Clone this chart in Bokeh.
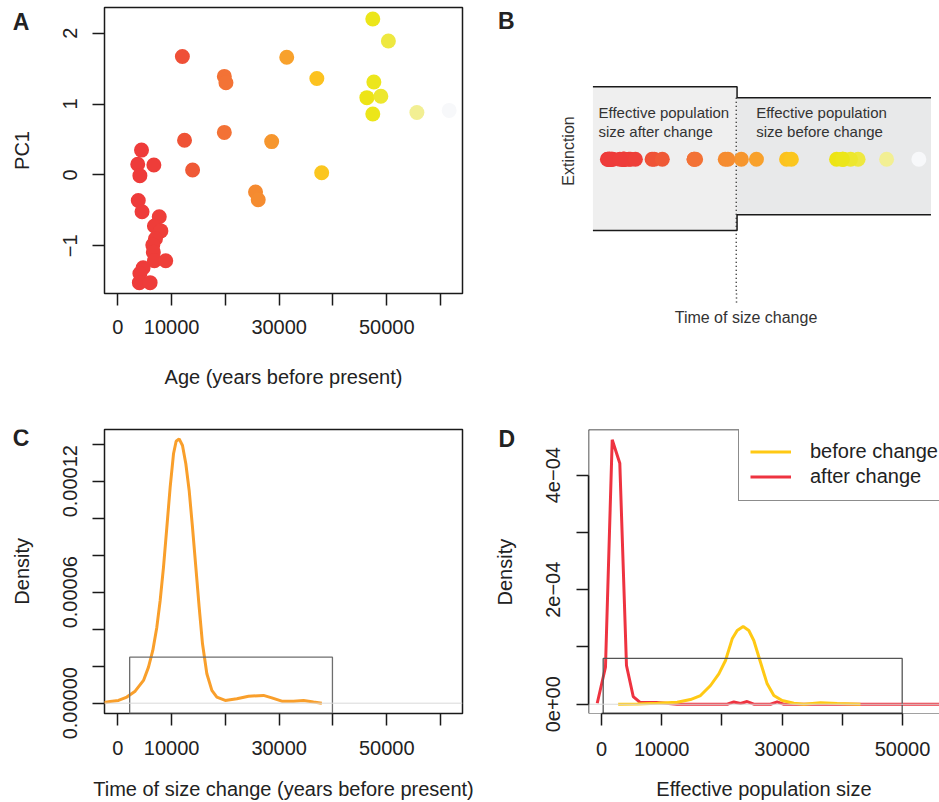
import numpy as np
from bokeh.plotting import figure
from bokeh.layouts import column, row
from bokeh.models import (Range1d, FixedTicker, Span, Legend, LegendItem,
                          LinearColorMapper, ColumnDataSource)
from bokeh.core.properties import value
from bokeh.embed import file_html
from bokeh.resources import INLINE

# ---------------- data ----------------
# Panel A: specimens (age in years BP, PC1 score)
ages = [47400, 50300, 12000, 31400, 37000, 47600, 19800, 20100, 46300, 48900,
        47400, 55600, 61600, 19800, 12400, 28600, 13900, 37900, 25600, 26100,
        4400, 3700, 6700, 4100, 3800, 4500, 7700, 6800, 8000, 7000,
        6500, 6600, 6800, 8900, 4700, 4100, 4000, 6000]
pc1 = [2.20, 1.89, 1.67, 1.66, 1.36, 1.31, 1.39, 1.30, 1.09, 1.11,
       0.86, 0.88, 0.91, 0.60, 0.49, 0.47, 0.07, 0.03, -0.24, -0.35,
       0.35, 0.15, 0.14, -0.01, -0.36, -0.52, -0.59, -0.72, -0.79, -0.90,
       -0.99, -1.09, -1.21, -1.21, -1.31, -1.39, -1.52, -1.52]

# Panel C: density of time of size change
tsc_x = [-2800, -1430, 120, 1670, 3220, 4770, 5700, 6500, 7250, 7870, 8490, 9110,
         9730, 10350, 10840, 11400, 12020, 12640, 13260, 13880, 14500, 15120,
         15740, 16550, 17480, 18410, 19960, 22130, 24300, 27080, 28630, 30490,
         32660, 34520, 36380, 37930]
tsc_y = [0.2e-6, 0.9e-6, 1.5e-6, 3.3e-6, 6.5e-6, 12.3e-6, 19.5e-6, 28.5e-6, 41.1e-6,
         55.5e-6, 73.5e-6, 95.1e-6, 116.8e-6, 134.8e-6, 141.6e-6, 142.9e-6, 139.3e-6,
         129.4e-6, 115.0e-6, 95.1e-6, 73.5e-6, 51.9e-6, 32.1e-6, 15.9e-6, 6.9e-6,
         3.3e-6, 1.5e-6, 2.4e-6, 3.8e-6, 4.2e-6, 2.9e-6, 1.1e-6, 1.1e-6, 1.5e-6,
         0.6e-6, 0.0]
c_box = [2200, 39900, 0.0000249]          # left, right, top of grey frame in C

# Panel D: density of effective population size
after_x = [-710, 660, 1780, 3040, 4150, 5270, 6360, 9250, 12570, 20880, 21980,
           23090, 24200, 25300, 28070, 29180, 30290, 60000]
after_y = [0.017e-4, 0.646e-4, 4.618e-4, 4.21e-4, 0.676e-4, 0.134e-4, 0.035e-4,
           0.03e-4, 0.0, 0.0, 0.04e-4, 0.012e-4, 0.047e-4, 0.0, 0.0, 0.04e-4, 0.0, 0.0]
before_x = [2770, 5930, 9250, 12570, 14780, 16450, 18110, 19490, 20600, 21710,
            22540, 23530, 24470, 25300, 26410, 27520, 28630, 30010, 31950, 33610,
            36380, 39150, 43020]
before_y = [0.0, 0.006e-4, 0.018e-4, 0.035e-4, 0.082e-4, 0.152e-4, 0.327e-4,
            0.53e-4, 0.763e-4, 1.142e-4, 1.287e-4, 1.357e-4, 1.287e-4, 1.113e-4,
            0.734e-4, 0.356e-4, 0.152e-4, 0.065e-4, 0.018e-4, 0.0, 0.024e-4,
            0.012e-4, 0.0]
d_box = [280, 49950, 0.80e-4]

# Panel B schematic (time axis in years, vertical in schematic units)
b_start, b_change, b_end = 1000, 27800, 63850
after_top, after_bottom = 72.4, -71.3
before_top, before_bottom = 61.4, -55.6

# tick labels
A_XTICKS = [0, 10000, 20000, 30000, 40000, 50000, 60000]
A_XLABELS = ["0", "10000", "", "30000", "", "50000", ""]
A_YTICKS = [-1, 0, 1, 2]
A_YLABELS = ["\u22121", "0", "1", "2"]
C_YTICKS = [0.0, 0.00002, 0.00004, 0.00006, 0.00008, 0.00010, 0.00012, 0.00014]
C_YLABELS = ["0.00000", "", "", "0.00006", "", "", "0.00012", ""]
D_XTICKS = [0, 10000, 20000, 30000, 40000, 50000]
D_XLABELS = ["0", "10000", "", "30000", "", "50000"]
D_YTICKS = [0.0, 0.0001, 0.0002, 0.0003, 0.0004]
D_YLABELS = ["0e+00", "", "2e\u221204", "", "4e\u221204"]

# colour ramp by age
AGE_ANCHORS = [3000, 9000, 13000, 20000, 26000, 31500, 37500, 47000, 50500, 55600, 61600]
COLOR_ANCHORS = ["#EE3A3A", "#EE3F39", "#EF5636", "#F37336", "#F58C30", "#F8A12C",
                 "#FCC51F", "#ECE614", "#EEE842", "#F2EF93", "#F7F8FA"]

# ---------------- style ----------------
FONT = "Liberation Sans"
INK = "#1a1a1a"
TXT = "#222222"

def hex2rgb(h):
    return [int(h[i:i + 2], 16) for i in (1, 3, 5)]

anch = np.array([hex2rgb(c) for c in COLOR_ANCHORS], float)
grid = np.linspace(AGE_ANCHORS[0], AGE_ANCHORS[-1], 256)
palette = ["#%02x%02x%02x" % tuple(int(round(np.interp(g, AGE_ANCHORS, anch[:, k]))) for k in range(3))
           for g in grid]
mapper = LinearColorMapper(palette=palette, low=AGE_ANCHORS[0], high=AGE_ANCHORS[-1])

src = ColumnDataSource(dict(age=ages, pc1=pc1, base=[0] * len(ages)))


def make_fig(w, h, xr, yr, ml, mr, mt, mb, **kw):
    p = figure(width=w, height=h, x_range=Range1d(*xr), y_range=Range1d(*yr),
               output_backend="svg", toolbar_location=None,
               min_border_left=ml, min_border_right=mr, min_border_top=mt,
               min_border_bottom=mb, background_fill_color="white",
               border_fill_color="white", **kw)
    p.grid.visible = False
    return p


def helper(w, h, mt, mb):
    """Narrow text-only strip (panel letter + axis title), canvas-pixel coordinates."""
    g = make_fig(w, h, (0, w), (h - mb, mt), 0, 0, mt, mb,
                 x_axis_type=None, y_axis_type=None)
    g.outline_line_color = None
    return g


def put_text(p, x, y, txt, size, bold=False, angle=0.0, color=TXT, align="center"):
    p.text(x=[x], y=[y], text=[txt], angle=angle, text_font=value(FONT),
           text_font_size=size, text_font_style="bold" if bold else "normal",
           text_color=color, text_align=align, text_baseline="middle")


def style_axis(ax, ticks, labels, bounds, standoff, lab_standoff=10, vertical=False, line=False):
    ax.ticker = FixedTicker(ticks=ticks)
    ax.major_label_overrides = dict(zip(ticks, labels))
    ax.bounds = bounds
    ax.axis_line_color = INK if line else None
    ax.axis_line_width = 1.5
    ax.major_tick_out = 12
    ax.major_tick_in = 0
    ax.major_tick_line_width = 1.5
    ax.major_tick_line_color = INK
    ax.minor_tick_line_color = None
    ax.major_label_text_font = FONT
    ax.major_label_text_font_size = "20px"
    ax.major_label_text_color = TXT
    ax.major_label_standoff = int(standoff)
    ax.axis_label_text_font = FONT
    ax.axis_label_text_font_size = "20px"
    ax.axis_label_text_font_style = "normal"
    ax.axis_label_text_color = TXT
    ax.axis_label_standoff = int(lab_standoff)
    if vertical:
        ax.major_label_orientation = "vertical"


# ================= top row =================
TOP_H, TOP_MT, TOP_MB = 400, 7, 107

gA = helper(40, TOP_H, TOP_MT, TOP_MB)
put_text(gA, 20.5, 21.7, "A", "23px", bold=True)
put_text(gA, 21.7, 150.0, "PC1", "20px", angle=np.pi / 2)

A_XR = (-2480, 64080)
A_YR = (-1.673, 2.362)
pA = make_fig(430, TOP_H, A_XR, A_YR, 64, 8, TOP_MT, TOP_MB)
pA.outline_line_color = INK
pA.outline_line_width = 1.5
pA.scatter("age", "pc1", source=src, size=15,
           fill_color={"field": "age", "transform": mapper}, line_color=None)
pA.xaxis.axis_label = "Age (years before present)"
style_axis(pA.xaxis[0], A_XTICKS, A_XLABELS, (0, 60000), 14, 29)
style_axis(pA.yaxis[0], A_YTICKS, A_YLABELS, (-1, 2), 15, vertical=True)

gB = helper(82, TOP_H, TOP_MT, TOP_MB)
put_text(gB, 35.8, 20.5, "B", "23px", bold=True)

B_XR = (-6515, 65437)
B_YR = (-134.3, 151.7)
pB = make_fig(387, TOP_H, B_XR, B_YR, 0, 0, TOP_MT, TOP_MB, y_axis_type=None)
pB.outline_line_color = None
pB.quad(left=[b_start], right=[b_change], bottom=[after_bottom], top=[after_top],
        fill_color="#EFEFEF", line_color=None)
pB.quad(left=[b_change], right=[b_end], bottom=[before_bottom], top=[before_top],
        fill_color="#E8E9EA", line_color=None)
pB.line([b_start, b_change, b_change, b_end], [after_top, after_top, before_top, before_top],
        line_color=INK, line_width=1.5)
pB.line([b_start, b_change, b_change, b_end], [after_bottom, after_bottom, before_bottom, before_bottom],
        line_color=INK, line_width=1.5)
pB.line([b_change - 150, b_change - 150], [before_top, B_YR[0]],
        line_color=INK, line_width=1.5, line_dash="1 3")
pB.scatter("age", "base", source=src, size=15,
           fill_color={"field": "age", "transform": mapper}, line_color=None)
pB.text(x=[2038, 2038, 31357, 31357], y=[47.0, 27.7, 47.0, 27.7],
        text=["Effective population", "size after change",
              "Effective population", "size before change"],
        text_font=value(FONT), text_font_size="15px", text_color="#333333",
        text_align="left", text_baseline="middle")
put_text(pB, -3540, 8.2, "Extinction", "16px", angle=np.pi / 2, color="#333333")
# time axis of the schematic: only the dotted tail below the boxes and its title
bx = pB.xaxis[0]
bx.ticker = FixedTicker(ticks=[b_change - 150])
bx.major_label_overrides = {b_change - 150: ""}
bx.major_label_text_font_size = "0px"
bx.major_label_standoff = 0
bx.axis_line_color = None
bx.major_tick_out = 9
bx.major_tick_in = 0
bx.major_tick_line_color = INK
bx.major_tick_line_width = 1.5
bx.major_tick_line_dash = "1 3"
bx.minor_tick_line_color = None
bx.axis_label = "Time of size change"
bx.axis_label_text_font = FONT
bx.axis_label_text_font_size = "16px"
bx.axis_label_text_font_style = "normal"
bx.axis_label_text_color = "#333333"
bx.axis_label_standoff = 6

# ================= bottom row =================
BOT_H, BOT_MT, BOT_MB = 402, 29, 89

gC = helper(40, BOT_H, BOT_MT, BOT_MB)
put_text(gC, 20.5, 37.5, "C", "23px", bold=True)
put_text(gC, 21.3, 170.8, "Density", "20px", angle=np.pi / 2)

C_XR = A_XR
C_YR = (-5.57e-6, 1.4794e-4)
pC = make_fig(444, BOT_H, C_XR, C_YR, 64, 22, BOT_MT, BOT_MB)
pC.outline_line_color = INK
pC.outline_line_width = 1.5
pC.add_layout(Span(location=0, dimension="width", line_color="#d9d9d9", line_width=1))
pC.line(tsc_x, tsc_y, line_color="#F99F2B", line_width=3)
pC.quad(left=[c_box[0]], right=[c_box[1]], bottom=[C_YR[0]], top=[c_box[2]],
        fill_color=None, line_color="#6e6e6e", line_width=1.3)
pC.xaxis.axis_label = "Time of size change (years before present)"
style_axis(pC.xaxis[0], A_XTICKS, A_XLABELS, (0, 60000), 15, 20)
style_axis(pC.yaxis[0], C_YTICKS, C_YLABELS, (0, 0.00014), 15, vertical=True)

gD = helper(40, BOT_H, BOT_MT, BOT_MB)
put_text(gD, 22.3, 38.0, "D", "23px", bold=True)
put_text(gD, 20.7, 171.6, "Density", "20px", angle=np.pi / 2)

D_XR = (-2159, 56146)
D_YR = (-1.62e-5, 4.798e-4)
pD = make_fig(415, BOT_H, D_XR, D_YR, 64, 0, BOT_MT, BOT_MB)
pD.outline_line_color = None
pD.add_layout(Span(location=0, dimension="width", line_color="#d9d9d9", line_width=1))
pD.add_layout(Span(location=D_YR[1], dimension="width", line_color=INK, line_width=1.5))
pD.add_layout(Span(location=D_XR[0], dimension="height", line_color=INK, line_width=1.5))
pD.add_layout(Span(location=D_YR[0], dimension="width", line_color="#444444", line_width=1))
r_after = pD.line(after_x, after_y, line_color="#EE3340", line_width=3)
r_before = pD.line(before_x, before_y, line_color="#FFC914", line_width=3)
pD.quad(left=[d_box[0]], right=[d_box[1]], bottom=[D_YR[0]], top=[d_box[2]],
        fill_color=None, line_color="#555555", line_width=1.3)
pD.xaxis.axis_label = "Effective population size"
style_axis(pD.xaxis[0], D_XTICKS, D_XLABELS, (0, 50000), 16, 19, line=True)
style_axis(pD.yaxis[0], D_YTICKS, D_YLABELS, (0, 0.0004), 16, vertical=True, line=True)
leg = Legend(items=[LegendItem(label="before change", renderers=[r_before]),
                    LegendItem(label="after change", renderers=[r_after])],
             location=(150, 212), padding=11, spacing=0, margin=0,
             label_standoff=19, glyph_width=41, glyph_height=25, label_height=25,
             label_text_font=FONT, label_text_font_size="20px", label_text_color=TXT,
             border_line_color=INK, border_line_width=1.5,
             background_fill_color="white", background_fill_alpha=1.0)
pD.add_layout(leg)

layout = column(row(gA, pA, gB, pB), row(gC, pC, gD, pD))
open("out.html", "w").write(file_html(layout, INLINE))
